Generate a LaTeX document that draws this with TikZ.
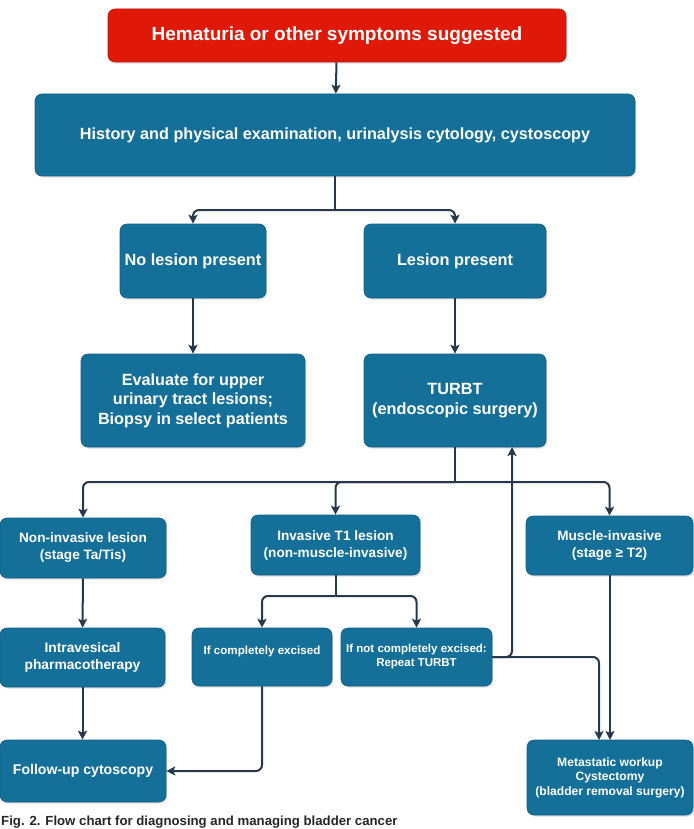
\documentclass[tikz,border=0pt]{standalone}
\usepackage{fontspec}
\setmainfont{Liberation Sans}
\usetikzlibrary{arrows.meta,shadows}
\definecolor{boxblue}{RGB}{20,112,153}
\definecolor{boxred}{RGB}{224,24,8}
\definecolor{arrowc}{RGB}{38,56,76}
\tikzset{
  bx/.style={rounded corners=7pt, fill=boxblue, draw=boxblue!85!black, line width=0.6pt,
    text=white, align=center, inner sep=0pt, font=\bfseries,
    drop shadow={shadow xshift=1.2pt, shadow yshift=-1.6pt, opacity=0.25}},
  redbx/.style={bx, fill=boxred, draw=boxred!85!black},
  arr/.style={draw=arrowc, line width=2pt, rounded corners=6pt,
    -{Stealth[length=9pt,width=9pt,inset=2pt]}},
  ln/.style={draw=arrowc, line width=2pt, rounded corners=6pt}
}
\newcommand{\fs}[2]{\fontsize{#1}{#2}\selectfont}
\begin{document}
\begin{tikzpicture}[x=1pt,y=-1pt]
\useasboundingbox (0,0) rectangle (693,829);
% nodes
\node[redbx, minimum width=458, minimum height=53, font=\bfseries\fs{19}{22}] (hem) at (337,35.5) {Hematuria or other symptoms suggested};
\node[bx, minimum width=600, minimum height=82, font=\bfseries\fs{16.2}{19}] (hist) at (335,135) {History and physical examination, urinalysis cytology, cystoscopy};
\node[bx, minimum width=146, minimum height=74, font=\bfseries\fs{16.3}{19}] (nol) at (193,261) {No lesion present};
\node[bx, minimum width=182, minimum height=74, font=\bfseries\fs{16.3}{19}] (les) at (455,261) {Lesion present};
\node[bx, minimum width=224, minimum height=93, font=\bfseries\fs{16.2}{19.5}] (eval) at (193,400.5) {Evaluate for upper\\urinary tract lesions;\\Biopsy in select patients};
\node[bx, minimum width=182, minimum height=93, font=\bfseries\fs{16.3}{20}] (turbt) at (455,400.5) {TURBT\\(endoscopic surgery)};
\node[bx, minimum width=166, minimum height=60, font=\bfseries\fs{13.6}{17}] (noninv) at (83,548) {Non-invasive lesion\\(stage Ta/Tis)};
\node[bx, minimum width=169, minimum height=60, font=\bfseries\fs{13.6}{17}] (inv) at (335.5,545) {Invasive T1 lesion\\(non-muscle-invasive)};
\node[bx, minimum width=167, minimum height=59, font=\bfseries\fs{13.6}{17}] (mus) at (609.5,545.5) {Muscle-invasive\\(stage ≥ T2)};
\node[bx, minimum width=165, minimum height=59, font=\bfseries\fs{13.8}{17}] (intra) at (82.5,657.5) {Intravesical\\pharmacotherapy};
\node[bx, minimum width=140, minimum height=58] (comp) at (262,657) {};
\node[font=\bfseries\fs{11.6}{14}, text=white] (comptxt) at (262,651) {If completely excised};
\node[bx, minimum width=151, minimum height=58, font=\bfseries\fs{11.5}{14}] (notc) at (416.5,657) {If not completely excised:\\Repeat TURBT};
\node[bx, minimum width=166, minimum height=62, font=\bfseries\fs{14.1}{16}] (fol) at (83,771) {Follow-up cytoscopy};
\node[bx, minimum width=166, minimum height=75, font=\bfseries\fs{12.1}{14.5}] (meta) at (610,777.5) {Metastatic workup\\Cystectomy\\(bladder removal surgery)};
\node[anchor=south west, inner sep=0pt, font=\bfseries\fs{13.2}{15}, text=black!85] (cap) at (1,828) {Fig. 2. Flow chart for diagnosing and managing bladder cancer};
% branch points
\coordinate (s1) at (335,210);
\coordinate (s2) at (455,482);
\coordinate (s3) at (335.5,596);
\coordinate (t1) at (512,447);
\coordinate (m1) at (599,740);
\coordinate (m2) at (610,740);
% connectors
\draw[arr] (hem) -- (hist);
\draw[ln] (hist.south) -- (s1);
\draw[arr] (s1) -| (nol.north);
\draw[arr] (s1) -| (les.north);
\draw[arr] (nol) -- (eval);
\draw[arr] (les) -- (turbt);
\draw[ln] (turbt.south) -- (s2);
\draw[arr] (s2) -| (noninv.north);
\draw[arr] (s2) -| (inv.north);
\draw[arr] (s2) -| (mus.north);
\draw[arr] (noninv) -- (intra);
\draw[arr] (intra.south) -- (intra.south |- fol.north);
\draw[ln] (inv.south) -- (s3);
\draw[arr] (s3) -| (comp.north);
\draw[arr] (s3) -| (notc.north);
\draw[arr] (comp.south) |- (fol.east);
\draw[arr] (notc.east) -| (t1);
\draw[arr] (notc.east) -| (m1);
\draw[arr] (mus.south -| m2) -- (m2);
\end{tikzpicture}
\end{document}
